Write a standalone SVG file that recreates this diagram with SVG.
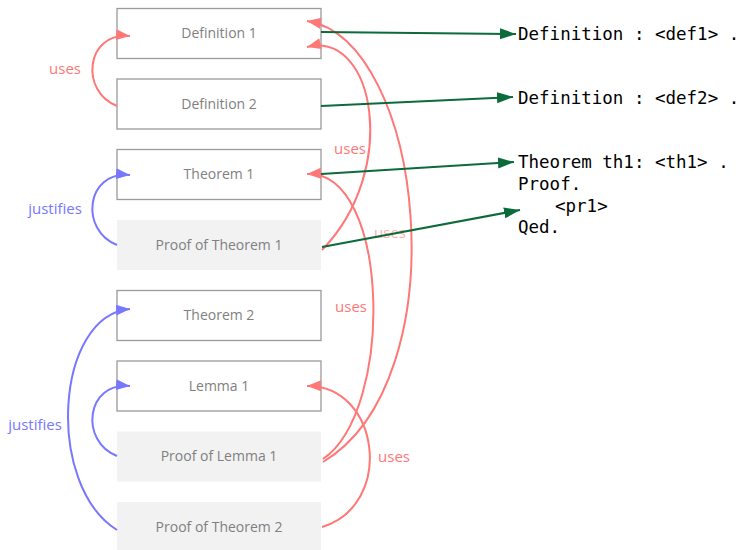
<svg xmlns="http://www.w3.org/2000/svg" width="742" height="550" viewBox="0 0 742 550">
<defs>
<style>
.box{fill:#fff;stroke:#9a9a9a;stroke-width:1.3}
.pbox{fill:#f2f2f2;stroke:none}
.bt{font-family:"Open Sans","Noto Sans",sans-serif;font-size:14px;fill:#808080;text-anchor:middle}
.red{fill:none;stroke:#ff7777;stroke-width:2}
.blue{fill:none;stroke:#7777ff;stroke-width:2}
.green{fill:none;stroke:#0b6b3a;stroke-width:2}
.lr{font-family:"Open Sans","Noto Sans",sans-serif;font-size:15px;fill:#ff7777;text-anchor:middle}
.lb{font-family:"Open Sans","Noto Sans",sans-serif;font-size:15px;fill:#7777ff;text-anchor:middle}
.code{font-family:"DejaVu Sans Mono","Liberation Mono",monospace;font-size:17.5px;fill:#000}
</style>
<marker id="ar" markerUnits="userSpaceOnUse" markerWidth="16" markerHeight="12" refX="14" refY="5.5" orient="auto" viewBox="0 0 16 12"><path d="M0,0 L14,5.5 L0,11 z" fill="#ff7777"/></marker>
<marker id="ab" markerUnits="userSpaceOnUse" markerWidth="16" markerHeight="12" refX="14" refY="5.5" orient="auto" viewBox="0 0 16 12"><path d="M0,0 L14,5.5 L0,11 z" fill="#7777ff"/></marker>
<marker id="ag" markerUnits="userSpaceOnUse" markerWidth="18" markerHeight="12" refX="16" refY="5.5" orient="auto" viewBox="0 0 18 12"><path d="M0,0 L16,5.5 L0,11 z" fill="#0b6b3a"/></marker>
</defs>
<g id="def1"><rect class="box" x="117" y="8.5" width="204" height="50"/><text class="bt" x="219" y="38">Definition 1</text></g>
<g id="def2"><rect class="box" x="117" y="79" width="204" height="50"/><text class="bt" x="219" y="109">Definition 2</text></g>
<g id="th1"><rect class="box" x="117" y="149.5" width="204" height="50"/><text class="bt" x="219" y="179">Theorem 1</text></g>
<g id="pth1"><rect class="pbox" x="117" y="220" width="204" height="50"/><text class="bt" x="219" y="250">Proof of Theorem 1</text></g>
<g id="th2"><rect class="box" x="117" y="290.5" width="204" height="50"/><text class="bt" x="219" y="320">Theorem 2</text></g>
<g id="lem1"><rect class="box" x="117" y="361" width="204" height="50"/><text class="bt" x="219" y="391">Lemma 1</text></g>
<g id="plem1"><rect class="pbox" x="117" y="431.5" width="204" height="50"/><text class="bt" x="219" y="461">Proof of Lemma 1</text></g>
<g id="pth2"><rect class="pbox" x="117" y="502" width="204" height="50"/><text class="bt" x="219" y="532">Proof of Theorem 2</text></g>
<g id="code">
<text class="code" x="518" y="40">Definition : &lt;def1&gt; .</text>
<text class="code" x="518" y="104">Definition : &lt;def2&gt; .</text>
<text class="code" x="518" y="168">Theorem th1: &lt;th1&gt; .</text>
<text class="code" x="518" y="190">Proof.</text>
<text class="code" x="555" y="212">&lt;pr1&gt;</text>
<text class="code" x="518" y="233">Qed.</text>
</g>
<g id="connectors">
<path class="red" d="M117,106 C80,92 85,32 130,36" marker-end="url(#ar)"/>
<path class="blue" d="M117,245 C80,231 85,171 130,175" marker-end="url(#ab)"/>
<path class="blue" d="M117,456 C80,442 85,382 130,386" marker-end="url(#ab)"/>
<path class="blue" d="M117,530 C45,485 55,315 130,309" marker-end="url(#ab)"/>
<path class="red" d="M322,250 C400,170 375,30 307,47" marker-end="url(#ar)"/>
<path class="red" d="M323,462 C460,380 425,40 307,21" marker-end="url(#ar)"/>
<path class="red" d="M323,459 C395,410 390,170 307,174" marker-end="url(#ar)"/>
<path class="red" d="M322,527 C395,505 380,385 307,386" marker-end="url(#ar)"/>
<text class="lr" x="390" y="238" opacity="0.6">uses</text>
<path class="green" d="M321,32 L516,34" marker-end="url(#ag)"/>
<path class="green" d="M321,106 L513,97" marker-end="url(#ag)"/>
<path class="green" d="M321,174 L514,162" marker-end="url(#ag)"/>
<path class="green" d="M322,247 L520,210" marker-end="url(#ag)"/>
<text class="lr" x="65" y="74">uses</text>
<text class="lb" x="55" y="214">justifies</text>
<text class="lb" x="35" y="430">justifies</text>
<text class="lr" x="350" y="154">uses</text>
<text class="lr" x="351" y="312">uses</text>
<text class="lr" x="394" y="462">uses</text>
</g>
</svg>
